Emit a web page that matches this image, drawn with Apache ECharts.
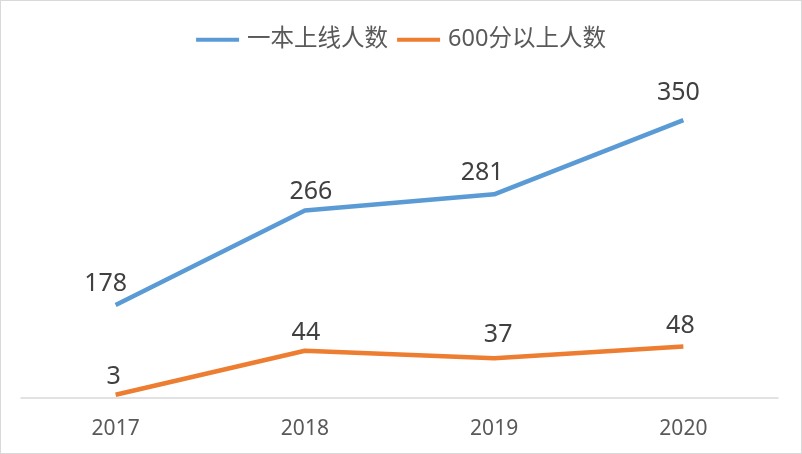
<!DOCTYPE html>
<html>
<head>
<meta charset="utf-8">
<script src="https://cdn.jsdelivr.net/npm/echarts@6/dist/echarts.min.js"></script>
<style>
html,body{margin:0;padding:0;background:#fff;}
#c{width:802px;height:454px;box-sizing:border-box;border:1px solid #d9d9d9;}
</style>
</head>
<body>
<div id="c"></div>
<script>
const categories = ['2017', '2018', '2019', '2020'];
const seriesNames = ['一本上线人数', '600分以上人数'];
const firstTier = [178, 266, 281, 350];
const over600 = [3, 44, 37, 48];
// label nudges (px) to mimic hand-placed labels
const firstTierLabelShift = [[-10, -8], [6, -5], [-12, -8], [-5, -14]];
const over600LabelShift = [[-2, -5], [1, -5], [4, -10], [-3, -7]];

const chart = echarts.init(document.getElementById('c'), null, {renderer: 'canvas'});
const font = '"Noto Sans", "Noto Sans CJK SC", sans-serif';

function mk(values, shifts) {
  return values.map((v, i) => ({value: v, label: {offset: shifts[i]}}));
}

chart.setOption({
  animation: false,
  legend: {
    top: 22,
    left: 'center',
    icon: 'rect',
    itemWidth: 43,
    itemHeight: 4,
    itemGap: 9,
    textStyle: {color: '#595959', fontSize: 23.5, fontFamily: font, padding: [0, 0, 0, 3]},
    data: seriesNames
  },
  grid: {left: 20, right: 23, top: 53, bottom: 55},
  xAxis: {
    type: 'category',
    data: categories,
    boundaryGap: true,
    axisLine: {lineStyle: {color: '#d9d9d9', width: 1.5}},
    axisTick: {show: false},
    axisLabel: {color: '#595959', fontSize: 21, fontFamily: font, margin: 21}
  },
  yAxis: [
    {type: 'value', min: 0, max: 320, show: false, splitLine: {show: false}},
    {type: 'value', min: 91.5, max: 411.5, show: false, splitLine: {show: false}}
  ],
  series: [
    {
      name: seriesNames[0], type: 'line', yAxisIndex: 1,
      data: mk(firstTier, firstTierLabelShift),
      symbol: 'circle', symbolSize: 0.1, showSymbol: true,
      itemStyle: {color: '#5b9bd5'},
      lineStyle: {color: '#5b9bd5', width: 4.5},
      label: {show: true, position: 'top', distance: 0, color: '#404040', fontSize: 25, lineHeight: 26, fontFamily: font}
    },
    {
      name: seriesNames[1], type: 'line', yAxisIndex: 0,
      data: mk(over600, over600LabelShift),
      symbol: 'circle', symbolSize: 0.1, showSymbol: true,
      itemStyle: {color: '#ed7d31'},
      lineStyle: {color: '#ed7d31', width: 4.5},
      label: {show: true, position: 'top', distance: 0, color: '#404040', fontSize: 25, lineHeight: 26, fontFamily: font}
    }
  ]
});
</script>
</body>
</html>
